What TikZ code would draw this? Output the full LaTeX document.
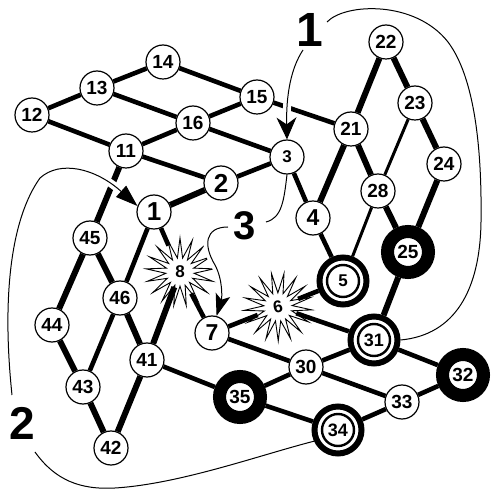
\documentclass[tikz,border=0pt]{standalone}
\usepackage{fontspec}
\setmainfont{Liberation Sans}
\usetikzlibrary{shapes.geometric,arrows.meta}
\begin{document}
\begin{tikzpicture}[x=1pt,y=-1pt,
  nd/.style={circle,draw,line width=1.2pt,fill=white,minimum size=34pt,inner sep=0pt,font=\fontsize{19}{19}\selectfont\bfseries},
  big/.style={font=\fontsize{26}{26}\selectfont\bfseries},
  mid/.style={font=\fontsize{23}{23}\selectfont\bfseries},
  sm/.style={font=\fontsize{17}{17}\selectfont\bfseries},
  ring/.style={circle,draw,line width=13pt,fill=white,minimum size=41pt,inner sep=0pt,font=\fontsize{19}{19}\selectfont\bfseries},
  dbl/.style={circle,draw,line width=6pt,fill=white,minimum size=47pt,inner sep=0pt,font=\fontsize{18}{18}\selectfont\bfseries},
  burst/.style={star,star points=17,star point ratio=2.4,minimum size=68pt,draw,fill=white,line width=0.9pt,inner sep=0pt,font=\fontsize{17}{17}\selectfont\bfseries},
  edge/.style={line width=4.6pt},
  edgeb/.style={line width=6pt},
  edget/.style={line width=3pt},
  lab/.style={inner sep=0pt,font=\fontsize{46}{46}\selectfont\bfseries},
  curve/.style={line width=1pt},
  halo/.style={preaction={draw=white,line width=8pt}},
]
\useasboundingbox (0,0) rectangle (491,489);
% ordinary nodes
\node[nd] (n12) at (32,115) {12};
\node[nd] (n13) at (97,88) {13};
\node[nd] (n14) at (163,62) {14};
\node[nd] (n15) at (257,97) {15};
\node[nd] (n16) at (193,123) {16};
\node[nd] (n11) at (126,151) {11};
\node[nd,big] (n2) at (221,183) {2};
\node[nd,sm] (n3) at (287,157) {3};
\node[nd,big] (n1) at (154,212) {1};
\node[nd] (n22) at (386,42) {22};
\node[nd] (n23) at (415,103) {23};
\node[nd] (n21) at (351,129) {21};
\node[nd] (n24) at (444,164) {24};
\node[nd] (n28) at (378,191) {28};
\node[nd,mid] (n4) at (313,218) {4};
\node[nd] (n45) at (90,238) {45};
\node[nd] (n46) at (120,298) {46};
\node[nd] (n44) at (52,325) {44};
\node[nd] (n43) at (83,387) {43};
\node[nd] (n42) at (111,448) {42};
\node[nd] (n41) at (147,360) {41};
\node[nd,mid] (n7) at (212,333) {7};
\node[nd] (n30) at (306,367) {30};
\node[nd] (n33) at (402,402) {33};
% special nodes
\node[ring] (n25) at (408,252) {25};
\node[ring] (n32) at (463,375) {32};
\node[ring] (n35) at (240,397) {35};
\node[dbl,sm] (n5) at (343,281) {5};
\node[dbl] (n31) at (374,340) {31};
\node[dbl] (n34) at (338,430) {34};
\node[burst] (n8) at (180,272) {8};
\node[burst,rotate=11] (n6) at (278,307) {6};
\foreach \n in {5,31,34} \draw[line width=2.4pt] (n\n.center) circle[radius=16pt];
% edges
\foreach \a/\b in {12/13,13/14,14/15,12/11,13/16,15/16,11/16,16/3,15/21,11/2,2/3,3/4,4/5,6/5,7/6,6/31,7/30,8/7,1/8,1/46,43/46,35/41,30/31,30/33,31/32,32/33,33/34,34/35,35/30}
  \draw[edge] (n\a) -- (n\b);
\foreach \a/\b in {1/2,21/4,22/21,22/23,23/24,21/28,24/25,28/25,25/31,11/45,45/46,45/44,44/43,46/41,43/42,42/41,41/8}
  \draw[edgeb] (n\a) -- (n\b);
\foreach \a/\b in {23/28,28/5}
  \draw[edget] (n\a) -- (n\b);
% labels
\node[lab,font=\fontsize{48}{48}\selectfont\bfseries] (lab1) at (310,30) {1};
\node[lab] (lab2) at (22,423) {2};
\node[lab,font=\fontsize{40}{40}\selectfont\bfseries] (lab3) at (245,226) {3};
% connector end points
\coordinate (c1s) at (327,22);
\coordinate (c1a) at (303,50);
\coordinate (c2a) at (12,395);
\coordinate (c2b) at (35,452);
\coordinate (c3a) at (266,222);
\coordinate (c3b) at (228,227);
% curves
\draw[curve] (c1s) .. controls (345,3) and (415,0) .. (448,42) .. controls (475,78) and (482,150) .. (481,222) .. controls (480,290) and (455,335) .. (n31.east);
\draw[curve,halo,-{Stealth[length=22pt,width=20pt,inset=7pt]}] (c1a) .. controls (291,68) and (286,95) .. (n3.north);
\draw[curve,halo,-{Triangle[length=22pt,width=15pt]}] (c2a) .. controls (2,300) and (10,220) .. (40,178) .. controls (60,160) and (95,168) .. (n1.160);
\draw[curve] (c2b) .. controls (55,480) and (80,490) .. (115,488) .. controls (180,484) and (260,455) .. (n34.205);
\draw[curve] (n3.south) .. controls (284,200) and (282,218) .. (c3a);
\draw[curve,halo,-{Stealth[length=22pt,width=15pt,inset=5pt]}] (c3b) .. controls (205,227) and (203,245) .. (215,265) .. controls (223,280) and (222,298) .. (n7.75);
\end{tikzpicture}
\end{document}
